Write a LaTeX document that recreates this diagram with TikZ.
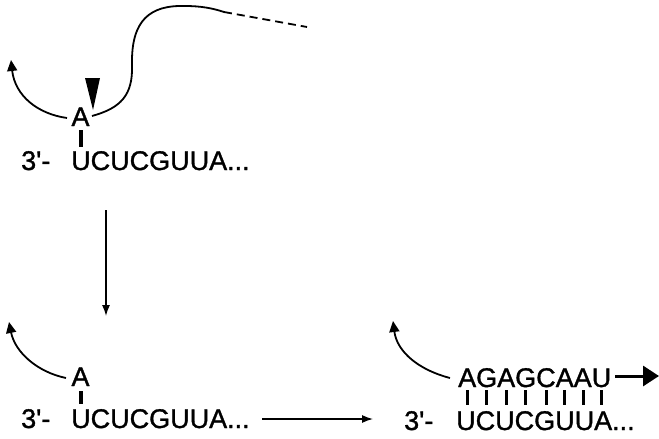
\documentclass[tikz,border=0pt]{standalone}
\usepackage{fontspec}
\newfontfamily\seqfont{Liberation Sans}[RawFeature={embolden=1.2}]
\usetikzlibrary{arrows.meta}
\begin{document}
\begin{tikzpicture}[x=1pt,y=-1pt,
  seqtext/.style={font=\seqfont\fontsize{27}{27}\selectfont, inner sep=0pt, anchor=base west},
  basetext/.style={font=\seqfont\fontsize{27}{27}\selectfont, inner sep=0pt, anchor=base},
  curl/.style={line width=1.8pt, -{Triangle[length=11pt,width=10pt]}},
  thinarrow/.style={line width=1.3pt, -{Latex[length=11pt,width=8pt]}},
  boldarrow/.style={line width=3pt, -{Triangle[length=16pt,width=20pt]}},
  strand/.style={line width=1.8pt},
  pairbar/.style={line width=4pt},
  helixbar/.style={line width=3pt}]
\useasboundingbox (0,0) rectangle (659,439);

% ---------- first stage: branch A with cleavage site ----------
\node[seqtext] (p1) at (21,170) {3'-};
\node[seqtext] (s1) at (71,170) {UCUCGUUA...};
\node[basetext] (a1) at (80.5,126) {A};
\coordinate (a1l) at (67,118);
\coordinate (a1r) at (92,116);
\coordinate (t1) at (11,60);
\draw[pairbar] (80.5,130) -- (80.5,147);
\draw[curl] (a1l) .. controls (38,114) and (15,96) .. (t1);
% the intron strand leaving A
\coordinate (k1) at (132,65);
\coordinate (k2) at (185,6);
\coordinate (k3) at (224,12);
\coordinate (k4) at (307,27);
\draw[strand] (a1r) .. controls (121,108) and (133,95) .. (k1)
  .. controls (131,20) and (150,5) .. (k2)
  .. controls (200,6) and (212,8) .. (k3);
\draw[strand, dash pattern=on 8pt off 5pt] (k3) -- (k4);
% cleavage marker
\fill (85,78) -- (100,78) -- (93,110) -- cycle;

% step down
\coordinate (d1) at (106,210);
\coordinate (d2) at (106,316);
\draw[thinarrow] (d1) -- (d2);

% ---------- second stage ----------
\node[seqtext] (p2) at (21,428) {3'-};
\node[seqtext] (s2) at (71,428) {UCUCGUUA...};
\node[basetext] (a2) at (80.5,386) {A};
\coordinate (a2l) at (66,378);
\coordinate (t2) at (9,322);
\draw[pairbar] (80.5,391) -- (80.5,404);
\draw[curl] (a2l) .. controls (37,372) and (15,352) .. (t2);

% step right
\coordinate (h1) at (262,419);
\coordinate (h2) at (373,419);
\draw[thinarrow] (h1) -- (h2);

% ---------- third stage: paired strand ----------
\node[seqtext] (p3) at (404,430) {3'-};
\node[seqtext] (s3) at (456,430) {UCUCGUUA...};
\node[seqtext] (r3) at (458,387) {AGAGCAAU};
\coordinate (r3l) at (450,378);
\coordinate (t3) at (393,321);
\draw[curl] (r3l) .. controls (419,370) and (397,352) .. (t3);
\foreach \bx in {467,486.5,506,525.5,546,564.5,583,601.5}
  \draw[helixbar] (\bx,390) -- (\bx,405);
\coordinate (b1) at (615,376);
\coordinate (b2) at (659,376);
\draw[boldarrow] (b1) -- (b2);
\end{tikzpicture}
\end{document}
